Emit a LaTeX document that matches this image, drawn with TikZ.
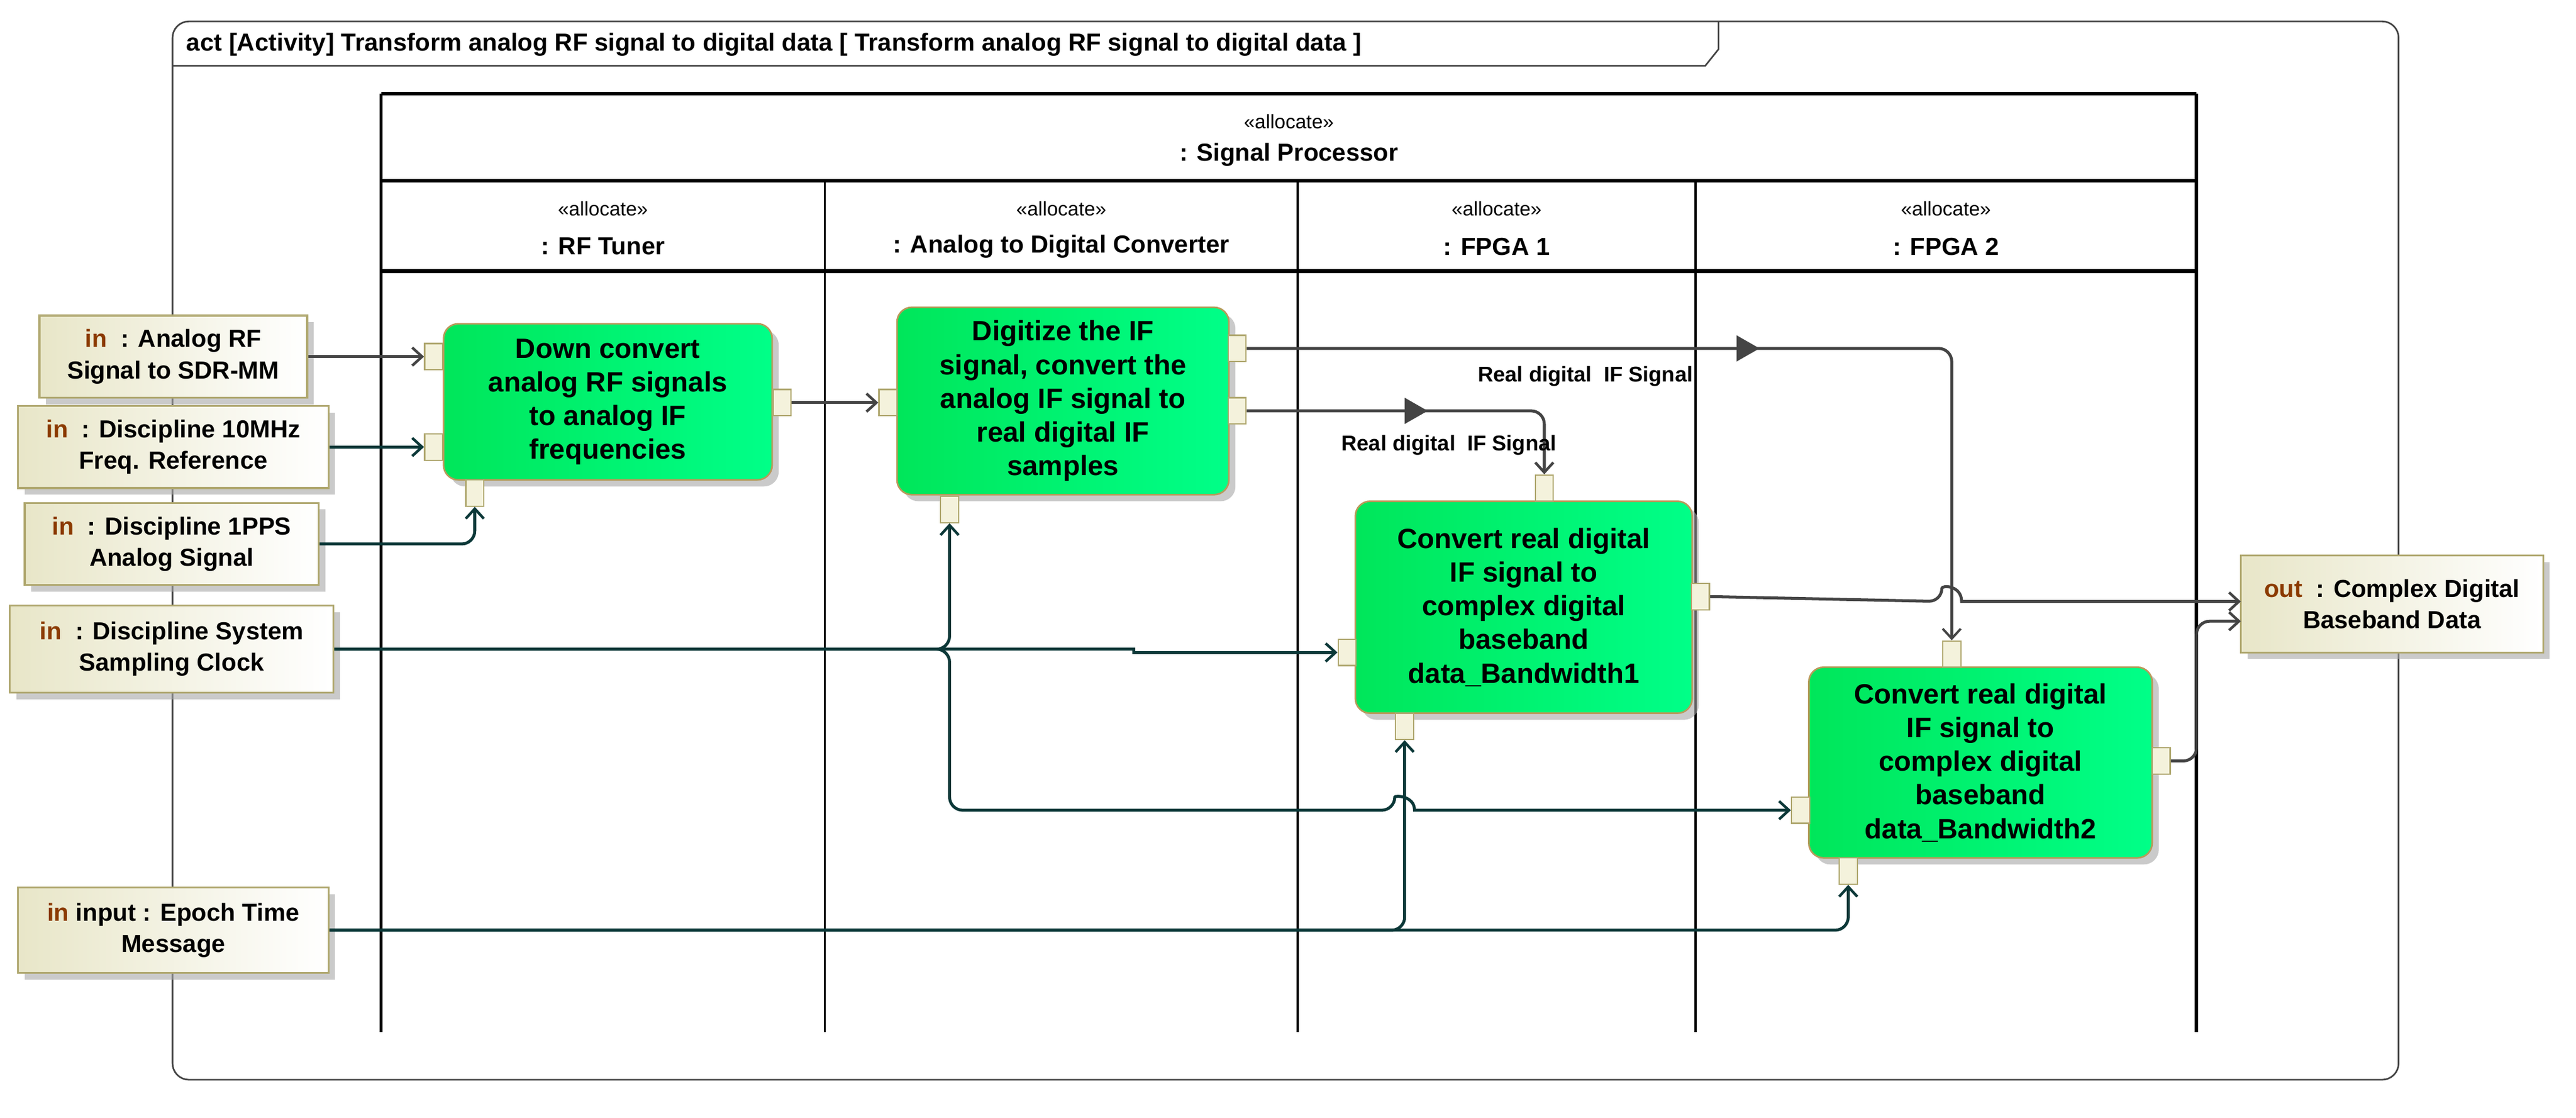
\documentclass[tikz,border=0pt]{standalone}
\usepackage{fontspec}
\setmainfont{Liberation Sans}
\usetikzlibrary{shadows,arrows.meta}
\definecolor{gline}{HTML}{444444}
\definecolor{tline}{HTML}{0B3838}
\definecolor{inbrown}{HTML}{8B3A00}
\definecolor{actA}{HTML}{00E65A}
\definecolor{actB}{HTML}{00FF88}
\definecolor{actBd}{HTML}{B89A5A}
\definecolor{pinF}{HTML}{F4F2DC}
\definecolor{pinD}{HTML}{B0A870}
\definecolor{parA}{HTML}{E8E6C8}
\begin{document}
\begin{tikzpicture}[x=1pt,y=-1pt,
  act/.style={draw=actBd,line width=1pt,rounded corners=9pt,left color=actA,right color=actB,
    drop shadow={shadow xshift=4pt,shadow yshift=-4pt,fill=black!35,opacity=.6},
    align=center,font=\fontsize{17}{20.5}\selectfont\bfseries,inner sep=2pt},
  pin/.style={draw=pinD,fill=pinF,minimum width=11pt,minimum height=16pt,inner sep=0pt,line width=.8pt},
  par/.style={draw=pinD,line width=1.2pt,left color=parA,right color=white,
    drop shadow={shadow xshift=4pt,shadow yshift=-4pt,fill=black!35,opacity=.6},
    align=center,font=\fontsize{15}{19}\selectfont\bfseries,inner sep=2pt},
  gcon/.style={draw=gline,line width=1.8pt,rounded corners=8pt,-{Straight Barb[length=6pt,width=11pt,line width=1.6pt]}},
  tcon/.style={draw=tline,line width=1.8pt,rounded corners=8pt,-{Straight Barb[length=6pt,width=11pt,line width=1.6pt]}},
  lane/.style={draw=black,line width=1.3pt},
  hdr/.style={align=center,font=\fontsize{15}{19}\selectfont\bfseries},
  st/.style={font=\fontsize{12}{14}\selectfont},
  lbl/.style={font=\fontsize{13}{15}\selectfont\bfseries}
]
\useasboundingbox (0,0) rectangle (1568,680);
% frame
\draw[gline,line width=1pt,rounded corners=10pt] (105,13) rectangle (1460,657);
\draw[gline,line width=1pt] (105,40) -- (1038,40) -- (1046,30) -- (1046,13);
\node[anchor=west,font=\fontsize{15}{18}\selectfont\bfseries] (title) at (110,27) {act [Activity] Transform analog RF signal to digital data [ Transform analog RF signal to digital data ]};
% swimlanes
\draw[lane,line width=2.4pt] (232,57) -- (1337,57);
\draw[lane,line width=2pt] (232,57) -- (232,628);
\draw[lane,line width=2pt] (1337,57) -- (1337,628);
\draw[lane,line width=2.4pt] (232,110) -- (1337,110);
\draw[lane,line width=2.4pt] (232,165) -- (1337,165);
\foreach \x in {502,790,1032} \draw[lane] (\x,110) -- (\x,628);
\node[st] (s0) at (784.5,74) {«allocate»};
\node[hdr] (h0) at (784.5,94) {: Signal Processor};
\node[st] (s1) at (367,127) {«allocate»};
\node[hdr] (h1) at (367,150) {: RF Tuner};
\node[st] (s2) at (646,127) {«allocate»};
\node[hdr] (h2) at (646,150) {: Analog to Digital Converter};
\node[st] (s3) at (911,127) {«allocate»};
\node[hdr] (h3) at (911,150) {: FPGA 1};
\node[st] (s4) at (1184.5,127) {«allocate»};
\node[hdr] (h4) at (1184.5,150) {: FPGA 2};
% parameters
\node[par,minimum width=163pt,minimum height=50pt] (p1) at (105.5,217) {\textcolor{inbrown}{in}\ \ : Analog RF\\Signal to SDR-MM};
\node[par,minimum width=189pt,minimum height=50pt] (p2) at (105.5,272) {\textcolor{inbrown}{in}\ \ : Discipline 10MHz\\Freq. Reference};
\node[par,minimum width=179pt,minimum height=50pt] (p3) at (104.5,331) {\textcolor{inbrown}{in}\ \ : Discipline 1PPS\\Analog Signal};
\node[par,minimum width=197pt,minimum height=53pt] (p4) at (104.5,395) {\textcolor{inbrown}{in}\ \ : Discipline System\\Sampling Clock};
\node[par,minimum width=189pt,minimum height=52pt] (p5) at (105.5,566) {\textcolor{inbrown}{in}\ input : Epoch Time\\Message};
\node[par,minimum width=184pt,minimum height=59pt] (out) at (1456,367.5) {\textcolor{inbrown}{out}\ \ : Complex Digital\\Baseband Data};
% actions
\node[act,minimum width=200pt,minimum height=95pt] (A1) at (370,244.5) {Down convert\\analog RF signals\\to analog IF\\frequencies};
\node[act,minimum width=202pt,minimum height=114pt] (A2) at (647,244) {Digitize the IF\\signal, convert the\\analog IF signal to\\real digital IF\\samples};
\node[act,minimum width=205pt,minimum height=129pt] (A3) at (927.5,369.5) {Convert real digital\\IF signal to\\complex digital\\baseband\\data\_Bandwidth1};
\node[act,minimum width=209pt,minimum height=116pt] (A4) at (1205.5,464) {Convert real digital\\IF signal to\\complex digital\\baseband\\data\_Bandwidth2};
% pins
\node[pin] (pA1a) at (264,217) {};
\node[pin] (pA1b) at (264,272) {};
\node[pin] (pA1o) at (476,245) {};
\node[pin] (pA1c) at (289,300) {};
\node[pin] (pA2i) at (540.5,245) {};
\node[pin] (pA2o1) at (753,212) {};
\node[pin] (pA2o2) at (753,250) {};
\node[pin] (pA2c) at (578,310) {};
\node[pin] (pA3t) at (940,297) {};
\node[pin] (pA3o) at (1035,363) {};
\node[pin] (pA3i) at (820,397) {};
\node[pin] (pA3c) at (855,442) {};
\node[pin] (pA4t) at (1188,398) {};
\node[pin] (pA4o) at (1315.5,463) {};
\node[pin] (pA4i) at (1096,493) {};
\node[pin] (pA4c) at (1125,530) {};
\coordinate (o1) at (1364,366);
\coordinate (o2) at (1364,378);
% connectors
\draw[gcon] (p1.east) -- (pA1a.west);
\draw[tcon] (p2.east) -- (pA1b.west);
\draw[tcon] (p3.east) -- (pA1c.south |- p3.east) -- (pA1c.south);
\draw[tcon] (p4.east) -- (pA2c.south |- p4.east) -- (pA2c.south);
\draw[tcon,rounded corners=0pt] (p4.east) -- (690,395) -- (690,397) -- (pA3i.west);
\draw[tcon] (p4.east) -- (578,395) -- (578,493) -- (849,493) [rounded corners=0pt] .. controls (849,484) and (861,484) .. (861,493) [rounded corners=8pt] -- (pA4i.west);
\draw[tcon] (p5.east) -- (pA3c.south |- p5.east) -- (pA3c.south);
\draw[tcon] (p5.east) -- (pA4c.south |- p5.east) -- (pA4c.south);
\draw[gcon] (pA1o.east) -- (pA2i.west);
\draw[gcon,-{Straight Barb[length=6pt,width=11pt,line width=1.4pt]},line width=1.8pt] (pA2o1.east) -- (pA4t.north |- pA2o1.east) -- (pA4t.north);
\draw[gcon] (pA2o2.east) -- (pA3t.north |- pA2o2.east) -- (pA3t.north);
\draw[gcon] (pA3o.east) -- (1182,366) [rounded corners=0pt] .. controls (1182,356) and (1194,356) .. (1194,366) -- (o1);
\draw[gcon] (pA4o.east) -- (1337,463) -- (1337,378) -- (o2);
% flow direction markers
\fill[gline] (1057,204) -- (1071,212) -- (1057,220) -- cycle;
\fill[gline] (855,242) -- (869,250) -- (855,258) -- cycle;
% labels
\node[lbl] (l1) at (965,229) {Real digital\ \ IF Signal};
\node[lbl] (l2) at (882,271) {Real digital\ \ IF Signal};
\end{tikzpicture}
\end{document}
